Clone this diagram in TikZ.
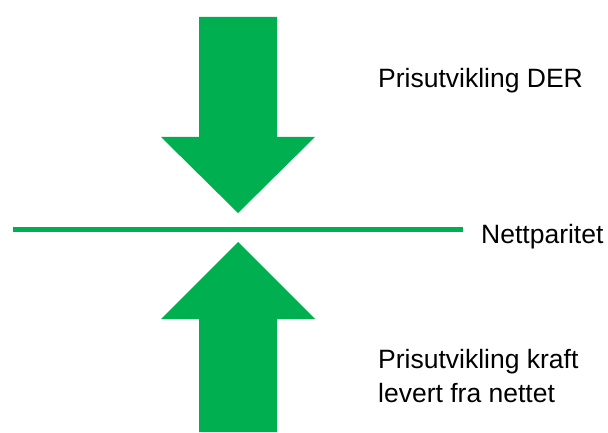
\documentclass[tikz,border=0pt]{standalone}
\usepackage{fontspec}
\setmainfont{Liberation Sans}
\definecolor{arrowgreen}{RGB}{0,176,80}
\tikzset{
  bigarrow/.style={fill=arrowgreen, draw=none},
  lbl/.style={anchor=base west, inner sep=0pt, font=\fontsize{26.5}{34}\selectfont, text=black, align=left}
}
\begin{document}
\begin{tikzpicture}[x=1pt,y=1pt]
\useasboundingbox (0,0) rectangle (608,432);
% top arrow (pointing down)
\fill[bigarrow] (199,415) -- (277,415) -- (277,295) -- (315,295) -- (238,219) -- (161,295) -- (199,295) -- cycle;
% bottom arrow (pointing up)
\fill[bigarrow] (238,190) -- (315,113) -- (277,113) -- (277,0) -- (199,0) -- (199,113) -- (161,113) -- cycle;
% line
\coordinate (la) at (13,203);
\coordinate (lb) at (463,203);
\draw[arrowgreen, line width=5pt] (la) -- (lb);
\node[lbl] (der) at (378,344) {Prisutvikling DER};
\node[lbl] (np) at (481,189) {Nettparitet};
\node[lbl] (kraft) at (378,30) {Prisutvikling kraft\\levert fra nettet};
\end{tikzpicture}
\end{document}
